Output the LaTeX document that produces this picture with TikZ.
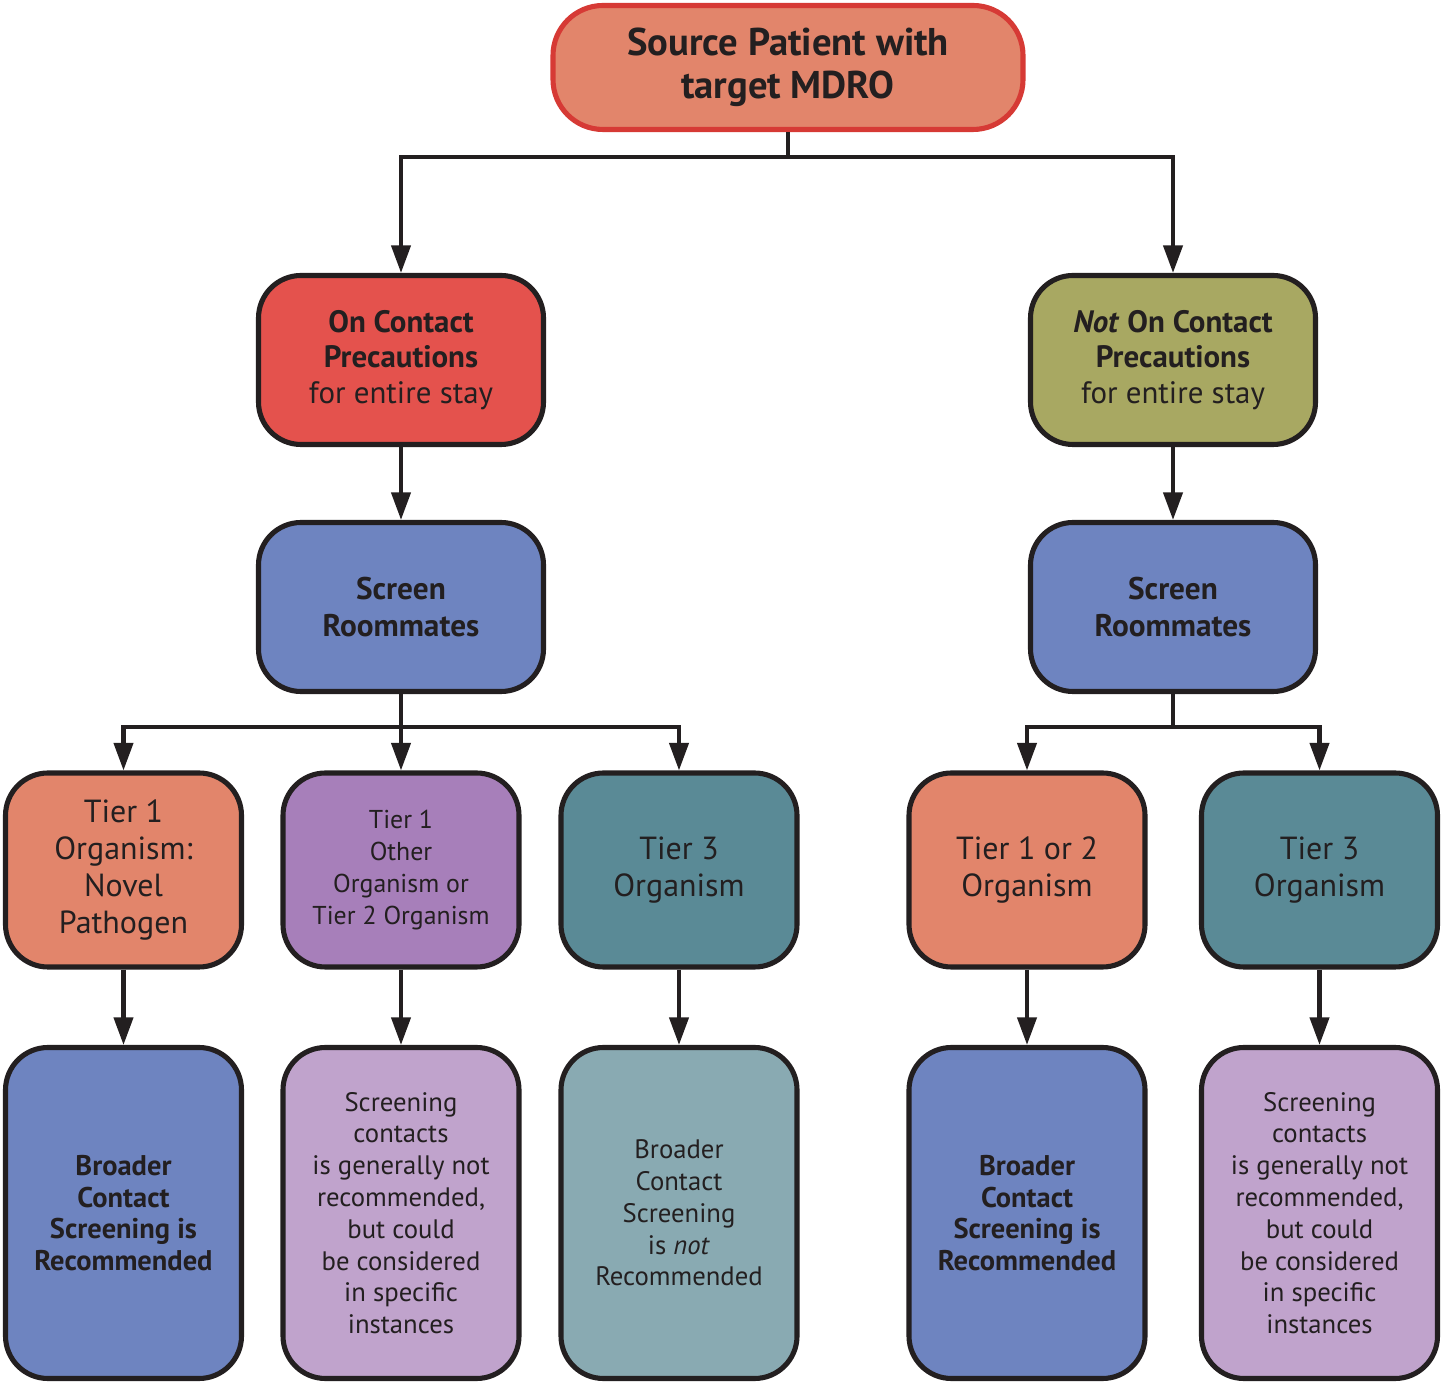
\documentclass[tikz,border=0pt]{standalone}
\usepackage{fontspec}
\setmainfont{PT Sans}
\usetikzlibrary{arrows.meta}

\definecolor{inkdark}{HTML}{231F20}
\definecolor{srcred}{HTML}{D63A35}
\definecolor{salmon}{HTML}{E2856B}
\definecolor{contactred}{HTML}{E4524D}
\definecolor{olive}{HTML}{A8A862}
\definecolor{screenblue}{HTML}{6E84C0}
\definecolor{tierpurple}{HTML}{A77FBA}
\definecolor{tierteal}{HTML}{5A8A96}
\definecolor{lightpurple}{HTML}{C0A3CC}
\definecolor{lightteal}{HTML}{89AAB2}

\tikzset{
  box/.style={draw=inkdark, line width=2.9pt, rounded corners=0.85cm,
    align=center, text=inkdark, inner sep=0pt},
  srcbox/.style={box, draw=srcred, fill=salmon, rounded corners=1cm,
    minimum width=9.4cm, minimum height=2.48cm,
    font=\bfseries\fontsize{22}{24.4}\selectfont},
  midbox/.style={box, minimum width=5.7cm, minimum height=3.38cm,
    font=\fontsize{17.6}{20.4}\selectfont},
  tierbox/.style={box, minimum width=4.72cm, minimum height=3.88cm,
    font=\fontsize{18.2}{21.2}\selectfont},
  endbox/.style={box, minimum width=4.72cm, minimum height=6.62cm,
    font=\fontsize{15.2}{18.1}\selectfont},
  conn/.style={draw=inkdark, line width=2.3pt},
  arr/.style={conn, -{Triangle[length=0.55cm, width=0.38cm]}}
}

\begin{document}
\begin{tikzpicture}

  %% Page frame.
  \useasboundingbox (0,0) rectangle (28.84,27.68);


  %% Top node.
  \node[srcbox] (src) at (15.76,26.33) {Source Patient with\\target MDRO};


  %% Second level: contact precautions.
  \node[midbox, fill=contactred] (onc) at (8.02,20.48)
  {\textbf{On Contact}\\\textbf{Precautions}\\for entire stay};
  \node[midbox, fill=olive] (notc) at (23.46,20.48)
  {\textbf{\textit{Not} On Contact}\\\textbf{Precautions}\\for entire stay};


  %% Third level: roommate screening.
  \node[midbox, fill=screenblue, font=\bfseries\fontsize{17.8}{20.8}\selectfont]
  (scrl) at (8.02,15.54) {Screen\\Roommates};
  \node[midbox, fill=screenblue, font=\bfseries\fontsize{17.8}{20.8}\selectfont]
  (scrr) at (23.46,15.54) {Screen\\Roommates};


  %% Fourth level: organism tiers.
  \node[tierbox, fill=salmon] (novel) at (2.47,10.28)
  {Tier 1\\Organism:\\Novel\\Pathogen};
  \node[tierbox, fill=tierpurple, font=\fontsize{14.7}{18.1}\selectfont]
  (other) at (8.02,10.28) {Tier 1\\Other\\Organism or\\Tier 2 Organism};
  \node[tierbox, fill=tierteal] (tthreel) at (13.58,10.28) {Tier 3\\Organism};
  \node[tierbox, fill=salmon] (tonetwo) at (20.54,10.28) {Tier 1 or 2\\Organism};
  \node[tierbox, fill=tierteal] (tthreer) at (26.39,10.28) {Tier 3\\Organism};


  %% Bottom level: recommendations.
  \node[endbox, fill=screenblue, font=\bfseries\fontsize{16.2}{18.1}\selectfont]
  (recl) at (2.47,3.42) {Broader\\Contact\\Screening is\\Recommended};
  \node[endbox, fill=lightpurple] (considerl) at (8.02,3.42)
  {Screening\\contacts\\is generally not\\recommended,\\but could\\be considered\\in specific\\instances};
  \node[endbox, fill=lightteal] (notrec) at (13.58,3.42)
  {Broader\\Contact\\Screening\\is \textit{not}\\Recommended};
  \node[endbox, fill=screenblue, font=\bfseries\fontsize{16.2}{18.1}\selectfont]
  (recr) at (20.54,3.42) {Broader\\Contact\\Screening is\\Recommended};
  \node[endbox, fill=lightpurple] (considerr) at (26.39,3.42)
  {Screening\\contacts\\is generally not\\recommended,\\but could\\be considered\\in specific\\instances};


  %% Branch points.
  \coordinate (jtop) at (15.76,24.54);
  \coordinate (jleft) at (8.02,13.14);
  \coordinate (jright) at (23.46,13.14);


  %% Connectors from the source.
  \draw[conn] (src.south) -- (jtop);
  \draw[arr] (jtop) -| (onc.north);
  \draw[arr] (jtop) -| (notc.north);
  \draw[arr] (onc.south) -- (scrl.north);
  \draw[arr] (notc.south) -- (scrr.north);


  %% Connectors to the tiers.
  \draw[conn] (scrl.south) -- (jleft);
  \draw[arr] (jleft) -| (novel.north);
  \draw[arr] (jleft) -- (other.north);
  \draw[arr] (jleft) -| (tthreel.north);
  \draw[conn] (scrr.south) -- (jright);
  \draw[arr] (jright) -| (tonetwo.north);
  \draw[arr] (jright) -| (tthreer.north);


  %% Connectors to the recommendations.
  \draw[arr] (novel.south) -- (recl.north);
  \draw[arr] (other.south) -- (considerl.north);
  \draw[arr] (tthreel.south) -- (notrec.north);
  \draw[arr] (tonetwo.south) -- (recr.north);
  \draw[arr] (tthreer.south) -- (considerr.north);

\end{tikzpicture}
\end{document}
